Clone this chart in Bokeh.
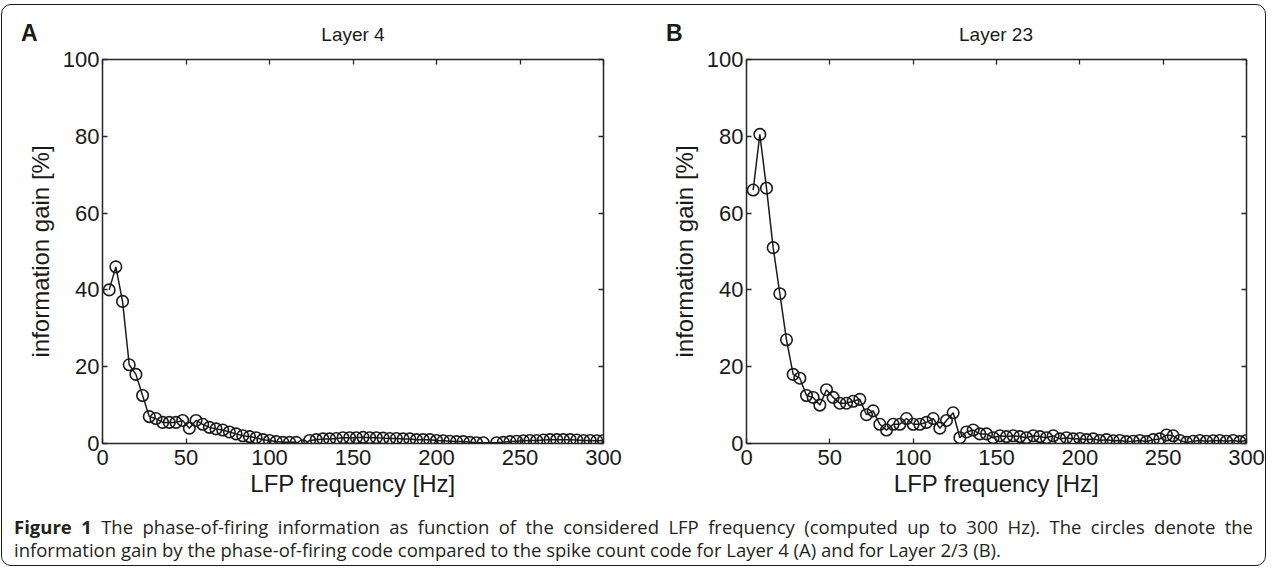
from bokeh.plotting import figure
from bokeh.models import LinearAxis, FixedTicker, Range1d, Div
from bokeh.layouts import row, column
from bokeh.embed import file_html
from bokeh.resources import INLINE

# ---------------- data ----------------
x_ticks = [0, 50, 100, 150, 200, 250, 300]
y_ticks = [0, 20, 40, 60, 80, 100]
panel_titles = ["Layer 4", "Layer 23"]
panel_letters = ["A", "B"]
x_label = "LFP frequency [Hz]"
y_label = "information gain [%]"

# Layer 4 (panel A): frequency 232 Hz is absent
freq_a = [4, 8, 12, 16, 20, 24, 28, 32, 36, 40,
          44, 48, 52, 56, 60, 64, 68, 72, 76, 80,
          84, 88, 92, 96, 100, 104, 108, 112, 116, 120,
          124, 128, 132, 136, 140, 144, 148, 152, 156, 160,
          164, 168, 172, 176, 180, 184, 188, 192, 196, 200,
          204, 208, 212, 216, 220, 224, 228, 236, 240,
          244, 248, 252, 256, 260, 264, 268, 272, 276, 280,
          284, 288, 292, 296, 300]
gain_a = [40, 46, 37, 20.5, 18, 12.5, 7, 6.5, 5.5, 5.5,
          5.5, 6, 4, 6, 5, 4.2, 3.8, 3.5, 3, 2.5,
          2, 1.8, 1.5, 1, 0.8, 0.5, 0.3, 0.3, 0.3, -0.6,
          0.8, 1, 1.2, 1.2, 1.3, 1.5, 1.5, 1.5, 1.6, 1.5,
          1.5, 1.4, 1.3, 1.3, 1.2, 1.2, 1.0, 1.0, 1.0, 0.8,
          0.7, 0.6, 0.5, 0.5, 0.3, 0.2, 0.2, 0.2, 0.3,
          0.5, 0.6, 0.7, 0.8, 0.8, 0.9, 1.0, 1.0, 1.0, 1.0,
          0.9, 0.8, 0.8, 0.7, 0.8]

# Layer 2/3 (panel B)
freq_b = [4, 8, 12, 16, 20, 24, 28, 32, 36, 40,
          44, 48, 52, 56, 60, 64, 68, 72, 76, 80,
          84, 88, 92, 96, 100, 104, 108, 112, 116, 120,
          124, 128, 132, 136, 140, 144, 148, 152, 156, 160,
          164, 168, 172, 176, 180, 184, 188, 192, 196, 200,
          204, 208, 212, 216, 220, 224, 228, 232, 236, 240,
          244, 248, 252, 256, 260, 264, 268, 272, 276, 280,
          284, 288, 292, 296, 300]
gain_b = [66, 80.5, 66.5, 51, 39, 27, 18, 17, 12.5, 12,
          10, 14, 12, 10.5, 10.5, 11, 11.5, 7.5, 8.5, 5,
          3.5, 5, 5, 6.5, 5, 5, 5.5, 6.5, 4, 6,
          8, 1.5, 3, 3.5, 2.5, 2.5, 1.5, 2, 1.8, 2,
          1.8, 1.5, 2, 1.8, 1.5, 2, 1.2, 1.5, 1.2, 1.3,
          1.0, 1.2, 0.8, 1.0, 0.7, 0.8, 0.5, 0.6, 0.8, 0.5,
          1.0, 1.2, 2.2, 2.0, 0.8, 0.3, 0.6, 0.8, 0.6, 0.7,
          0.8, 0.6, 0.8, 0.5, 0.8]

caption_bold = "Figure 1"
caption_line1 = ("The phase-of-firing information as function of the considered LFP frequency "
                 "(computed up to 300 Hz). The circles denote the")
caption_line2 = ("information gain by the phase-of-firing code compared to the spike count code "
                 "for Layer 4 (A) and for Layer 2/3 (B).")

# ---------------- style ----------------
INK = "#1a1a1a"
AXIS = "#262626"
FONT = "Liberation Sans"
TICK_FS = "22px"
LABEL_FS = "24px"
HEADER_H = 40
FIG_H = 470
W_A, W_B = 632, 631


def style_axis(ax, show_labels):
    ax.axis_line_color = AXIS
    ax.axis_line_width = 1.5
    ax.major_tick_line_color = AXIS
    ax.major_tick_line_width = 1.3
    ax.major_tick_in = 5
    ax.major_tick_out = 0
    ax.minor_tick_line_color = None
    if show_labels:
        ax.major_label_text_font = FONT
        ax.major_label_text_font_size = TICK_FS
        ax.major_label_text_color = INK
        ax.major_label_standoff = 3
    else:
        ax.major_label_text_font_size = "1px"
        ax.major_label_text_color = None
        ax.major_label_standoff = 0


def make_panel(freq, gain, width, left, right):
    p = figure(width=width, height=FIG_H,
               x_range=Range1d(0, 300), y_range=Range1d(0, 100),
               output_backend="svg", toolbar_location=None,
               min_border_left=left, min_border_right=right,
               min_border_top=14, min_border_bottom=72,
               x_axis_location=None, y_axis_location=None)
    p.outline_line_color = None
    p.grid.visible = False
    p.background_fill_color = "white"
    p.border_fill_color = "white"

    xt = FixedTicker(ticks=x_ticks)
    yt = FixedTicker(ticks=y_ticks)

    xb = LinearAxis(ticker=xt, axis_label=x_label)
    style_axis(xb, True)
    xb.major_label_standoff = 6
    xb.axis_label_text_font = FONT
    xb.axis_label_text_font_size = LABEL_FS
    xb.axis_label_text_font_style = "normal"
    xb.axis_label_text_color = INK
    xb.axis_label_standoff = 2
    p.add_layout(xb, "below")

    yl = LinearAxis(ticker=yt, axis_label=y_label)
    style_axis(yl, True)
    yl.axis_label_text_font = FONT
    yl.axis_label_text_font_size = LABEL_FS
    yl.axis_label_text_font_style = "normal"
    yl.axis_label_text_color = INK
    yl.axis_label_standoff = 6
    p.add_layout(yl, "left")

    xa = LinearAxis(ticker=xt)
    style_axis(xa, False)
    p.add_layout(xa, "above")

    yr = LinearAxis(ticker=yt)
    style_axis(yr, False)
    p.add_layout(yr, "right")

    p.line(freq, gain, line_color=INK, line_width=1.5)
    p.scatter(freq, gain, marker="circle", size=11.5, fill_color=None,
              line_color=INK, line_width=1.6)
    return p


def make_header(letter, title, width, letter_left, title_center):
    html = (
        f'<div style="position:relative;width:{width}px;height:{HEADER_H}px;'
        f'font-family:\'{FONT}\',Arial,sans-serif;color:{INK};">'
        f'<span style="position:absolute;left:{letter_left}px;top:18px;font-size:23px;'
        f'font-weight:bold;line-height:20px;">{letter}</span>'
        f'<span style="position:absolute;left:{title_center}px;top:20px;font-size:19px;'
        f'line-height:20px;white-space:nowrap;transform:translateX(-50%);">{title}</span>'
        f'</div>'
    )
    return Div(text=html, width=width, height=HEADER_H, margin=(0, 0, 0, 0))


pA = make_panel(freq_a, gain_a, W_A, 100, 31)
pB = make_panel(freq_b, gain_b, W_B, 112, 19)

hA = make_header(panel_letters[0], panel_titles[0], W_A, 19, 351)
hB = make_header(panel_letters[1], panel_titles[1], W_B, 32, 362)

inner_w = W_A + W_B - 24
caption = Div(
    text=(f'<div style="width:{inner_w}px;text-align:justify;text-align-last:justify;">'
          f'<b>{caption_bold}</b> {caption_line1}</div>'
          f'<div style="width:{inner_w}px;text-align:left;">{caption_line2}</div>'),
    width=W_A + W_B, height=50, margin=(0, 0, 0, 0),
    styles={"font-family": "'Open Sans', sans-serif", "font-size": "18.5px",
            "line-height": "23px", "color": "#231f20",
            "padding": "0 12px 0 12px", "box-sizing": "border-box"},
)

layout = column(row(hA, hB, spacing=0), row(pA, pB, spacing=0), caption, spacing=0,
                margin=(4, 0, 0, 1),
                styles={"border": "1.5px solid #1a1a1a", "border-radius": "10px",
                        "background": "white"})

open("out.html", "w").write(file_html(layout, INLINE))
